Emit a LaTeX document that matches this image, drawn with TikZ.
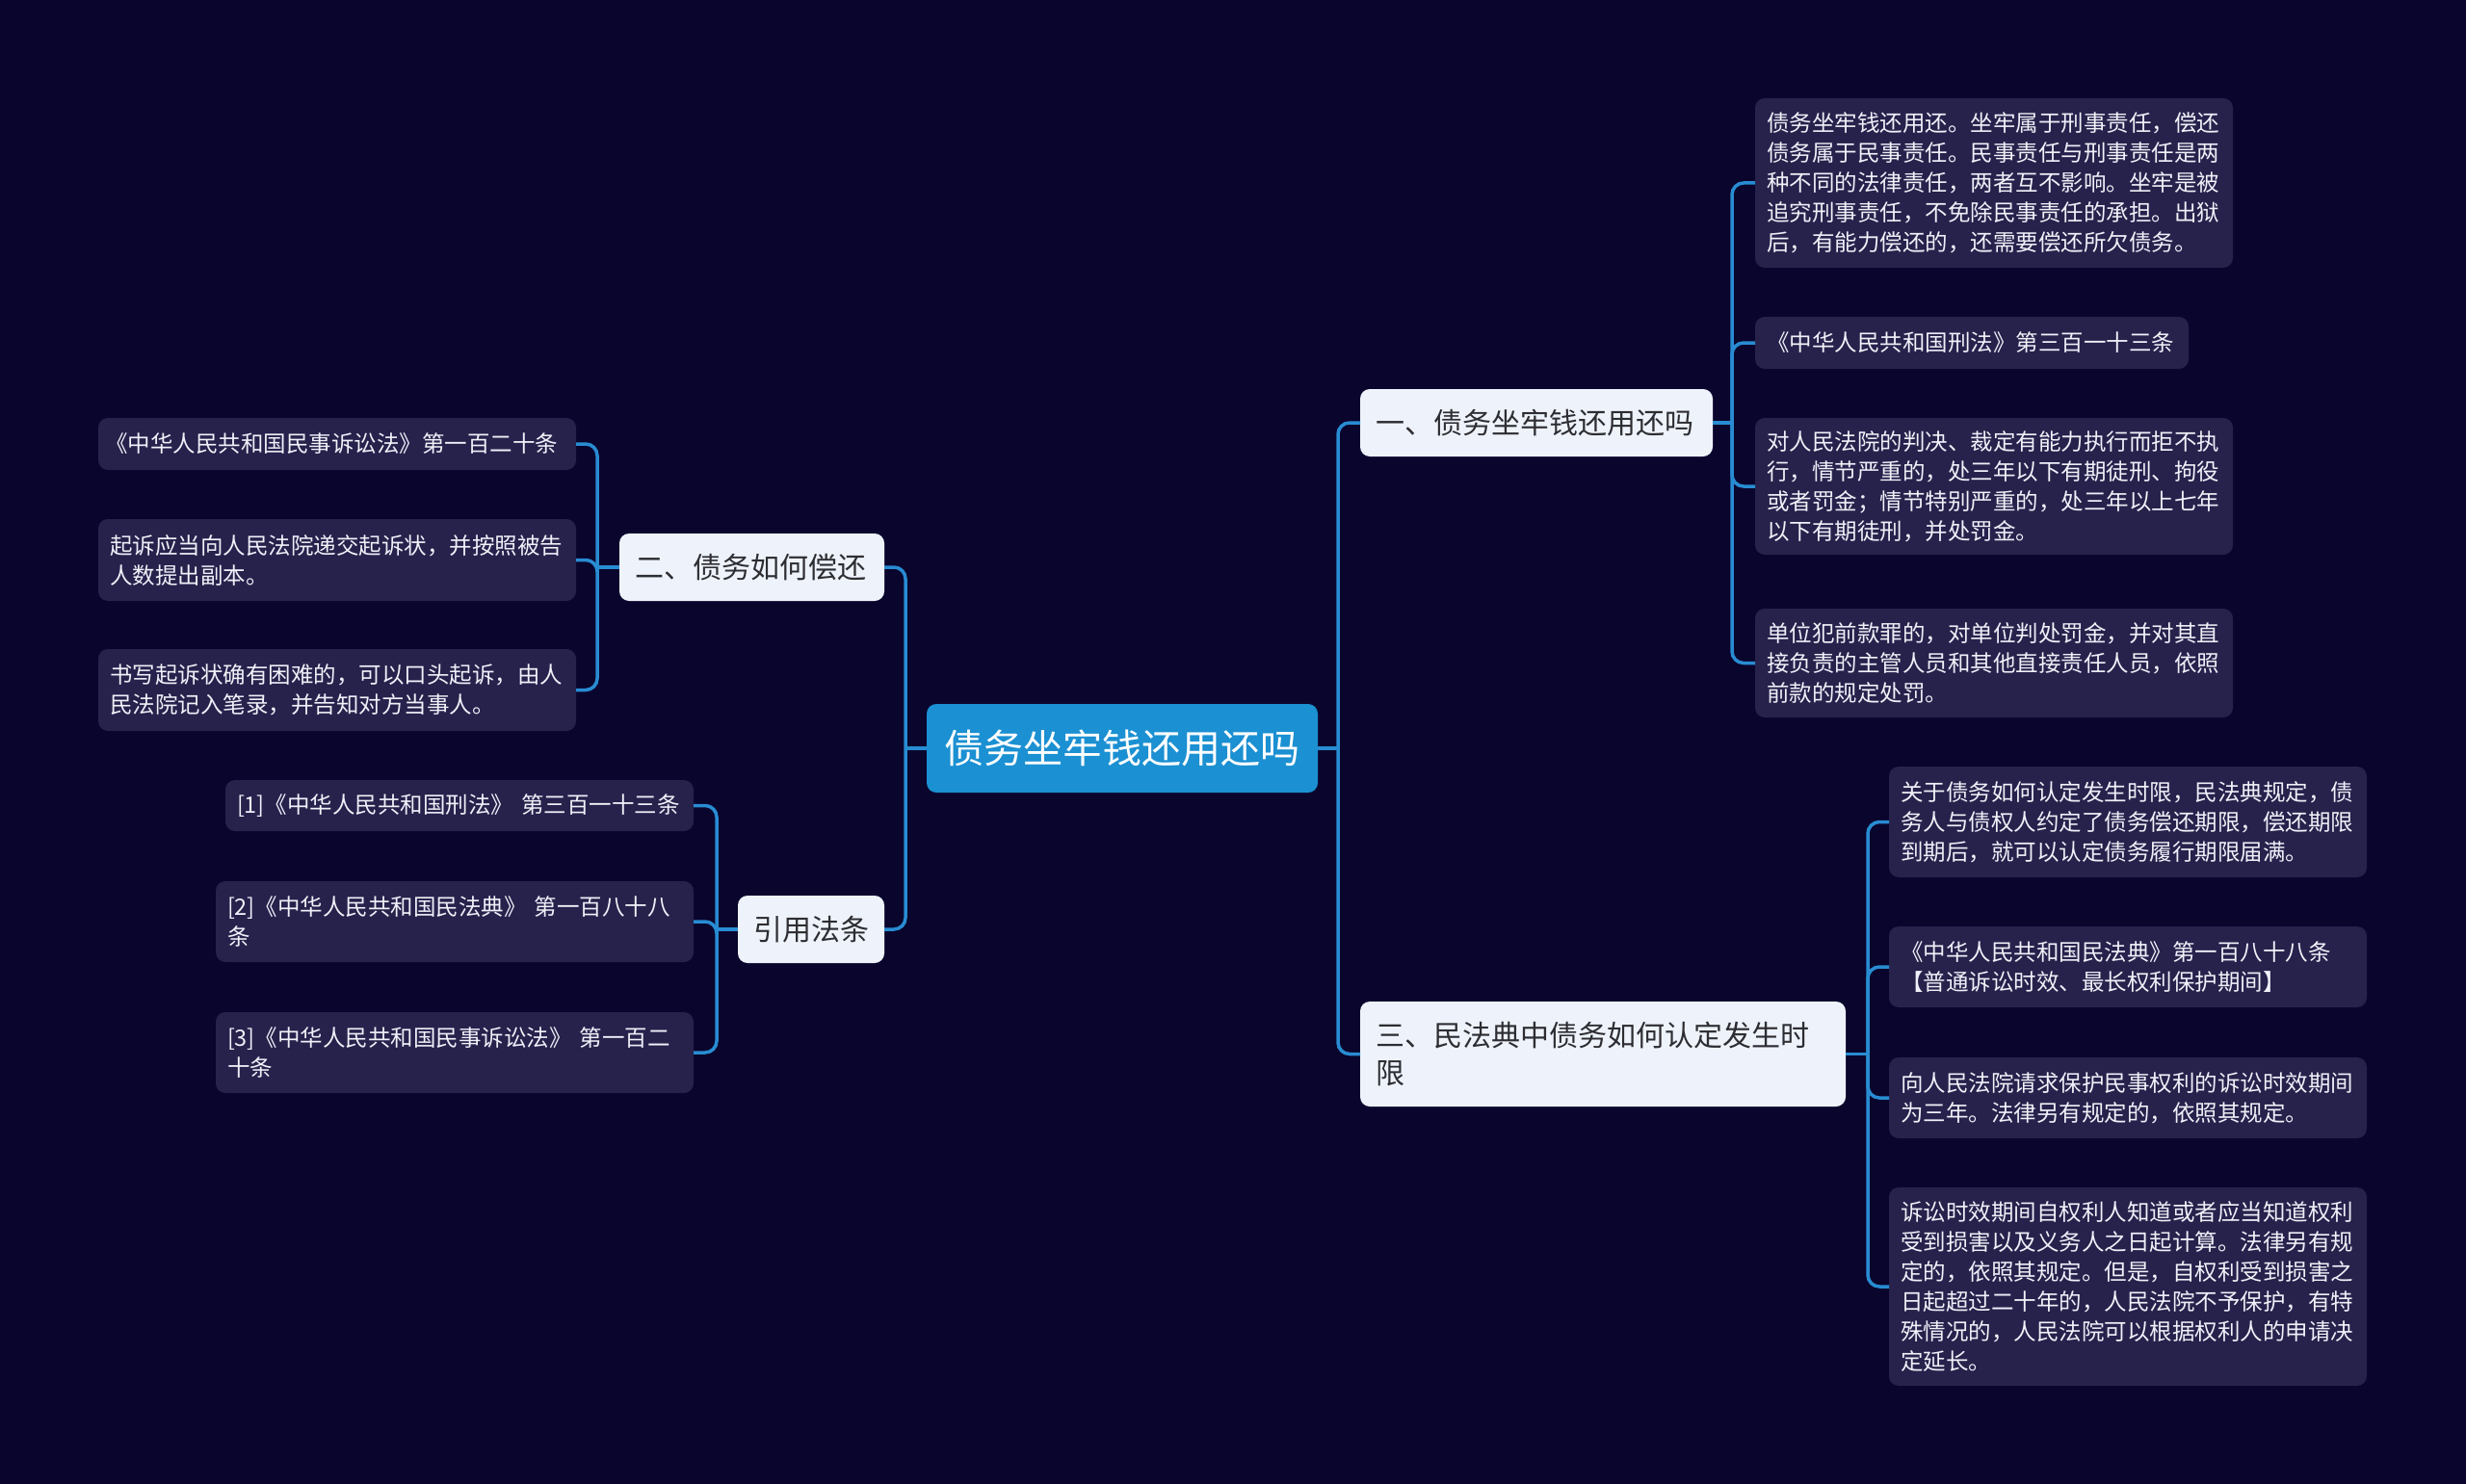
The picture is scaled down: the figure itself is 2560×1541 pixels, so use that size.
\documentclass[tikz,border=0pt]{standalone}
\usepackage{fontspec}
\setmainfont{Noto Sans CJK SC}
\definecolor{bgc}{RGB}{10,5,45}
\definecolor{leafc}{RGB}{38,34,76}
\definecolor{rootc}{RGB}{27,144,210}
\definecolor{branchc}{RGB}{238,243,251}
\definecolor{linec}{RGB}{40,140,210}
\definecolor{branchtext}{RGB}{45,45,50}
\definecolor{leaftext}{RGB}{240,240,248}
\begin{document}
\begin{tikzpicture}[x=1pt,y=-1pt,
  leaf/.style={anchor=north west, fill=leafc, rounded corners=10pt, text=leaftext,
    font=\fontsize{23.5}{31}\selectfont, inner xsep=12pt, inner ysep=0pt, outer sep=0pt, align=left},
  branch/.style={anchor=north west, fill=branchc, rounded corners=10pt, text=branchtext,
    font=\fontsize{30}{39}\selectfont, inner xsep=16pt, inner ysep=0pt, outer sep=0pt, align=left},
  rootnode/.style={anchor=north west, fill=rootc, rounded corners=10pt, text=white,
    font=\fontsize{41}{48}\selectfont, inner xsep=18pt, inner ysep=0pt, outer sep=0pt, align=center},
  conn/.style={draw=linec, line width=3.5pt, rounded corners=12pt}]
\fill[bgc] (0,0) rectangle (2560,1541);
\useasboundingbox (0,0) rectangle (2560,1541);

% root
\node[rootnode, text width=370pt, minimum height=92pt] (root) at (962,731) {债务坐牢钱还用还吗};

% branches
\node[branch, text width=334pt, minimum height=70pt] (b1) at (1412,404) {一、债务坐牢钱还用还吗};
\node[branch, text width=243pt, minimum height=70pt] (b2) at (643,554) {二、债务如何偿还};
\node[branch, text width=120pt, minimum height=70pt] (b4) at (766,930) {引用法条};
\node[branch, text width=472pt, minimum height=109pt] (b3) at (1412,1040) {三、民法典中债务如何认定发生时\\限};

% leaves of b1
\node[leaf, text width=472pt, minimum height=176pt] (l1) at (1822,102) {债务坐牢钱还用还。坐牢属于刑事责任，偿还\\债务属于民事责任。民事责任与刑事责任是两\\种不同的法律责任，两者互不影响。坐牢是被\\追究刑事责任，不免除民事责任的承担。出狱\\后，有能力偿还的，还需要偿还所欠债务。};
\node[leaf, text width=426pt, minimum height=54pt] (l2) at (1822,329) {《中华人民共和国刑法》第三百一十三条};
\node[leaf, text width=472pt, minimum height=142pt] (l3) at (1822,434) {对人民法院的判决、裁定有能力执行而拒不执\\行，情节严重的，处三年以下有期徒刑、拘役\\或者罚金；情节特别严重的，处三年以上七年\\以下有期徒刑，并处罚金。};
\node[leaf, text width=472pt, minimum height=113pt] (l4) at (1822,632) {单位犯前款罪的，对单位判处罚金，并对其直\\接负责的主管人员和其他直接责任人员，依照\\前款的规定处罚。};

% leaves of b2
\node[leaf, text width=482pt, inner xsep=7pt, minimum height=54pt] (a1) at (102,434) {《中华人民共和国民事诉讼法》第一百二十条};
\node[leaf, text width=472pt, minimum height=85pt] (a2) at (102,539) {起诉应当向人民法院递交起诉状，并按照被告\\人数提出副本。};
\node[leaf, text width=472pt, minimum height=85pt] (a3) at (102,674) {书写起诉状确有困难的，可以口头起诉，由人\\民法院记入笔录，并告知对方当事人。};

% leaves of b4
\node[leaf, text width=462pt, minimum height=53pt] (c1) at (234,810) {[1]《中华人民共和国刑法》~第三百一十三条};
\node[leaf, text width=472pt, minimum height=84pt] (c2) at (224,915) {[2]《中华人民共和国民法典》~第一百八十八\\条};
\node[leaf, text width=472pt, minimum height=84pt] (c3) at (224,1051) {[3]《中华人民共和国民事诉讼法》~第一百二\\十条};

% leaves of b3
\node[leaf, text width=472pt, minimum height=115pt] (r1) at (1961,796) {关于债务如何认定发生时限，民法典规定，债\\务人与债权人约定了债务偿还期限，偿还期限\\到期后，就可以认定债务履行期限届满。};
\node[leaf, text width=472pt, minimum height=84pt] (r2) at (1961,962) {《中华人民共和国民法典》第一百八十八条\\【普通诉讼时效、最长权利保护期间】};
\node[leaf, text width=472pt, minimum height=84pt] (r3) at (1961,1098) {向人民法院请求保护民事权利的诉讼时效期间\\为三年。法律另有规定的，依照其规定。};
\node[leaf, text width=472pt, minimum height=206pt] (r4) at (1961,1233) {诉讼时效期间自权利人知道或者应当知道权利\\受到损害以及义务人之日起计算。法律另有规\\定的，依照其规定。但是，自权利受到损害之\\日起超过二十年的，人民法院不予保护，有特\\殊情况的，人民法院可以根据权利人的申请决\\定延长。};

% bus coordinates
\coordinate (rbus) at (1389,777);
\coordinate (lbus) at (940,777);
\coordinate (b1bus) at (1798,439);
\coordinate (b2bus) at (620,589);
\coordinate (b4bus) at (744,965);
\coordinate (b3bus) at (1939,1094.5);

% connectors
\draw[conn] (root.east) -- (rbus);
\draw[conn] (rbus) |- (b1.west);
\draw[conn] (rbus) |- (b3.west);
\draw[conn] (root.west) -- (lbus);
\draw[conn] (lbus) |- (b2.east);
\draw[conn] (lbus) |- (b4.east);

\draw[conn] (b1.east) -- (b1bus);
\draw[conn] (b1bus) |- (l1.west);
\draw[conn] (b1bus) |- (l2.west);
\draw[conn] (b1bus) |- (l3.west);
\draw[conn] (b1bus) |- (l4.west);

\draw[conn] (b2.west) -- (b2bus);
\draw[conn] (b2bus) |- (a1.east);
\draw[conn] (b2bus) |- (a2.east);
\draw[conn] (b2bus) |- (a3.east);

\draw[conn] (b4.west) -- (b4bus);
\draw[conn] (b4bus) |- (c1.east);
\draw[conn] (b4bus) |- (c2.east);
\draw[conn] (b4bus) |- (c3.east);

\draw[conn] (b3.east) -- (b3bus);
\draw[conn] (b3bus) |- (r1.west);
\draw[conn] (b3bus) |- (r2.west);
\draw[conn] (b3bus) |- (r3.west);
\draw[conn] (b3bus) |- (r4.west);
\end{tikzpicture}
\end{document}
